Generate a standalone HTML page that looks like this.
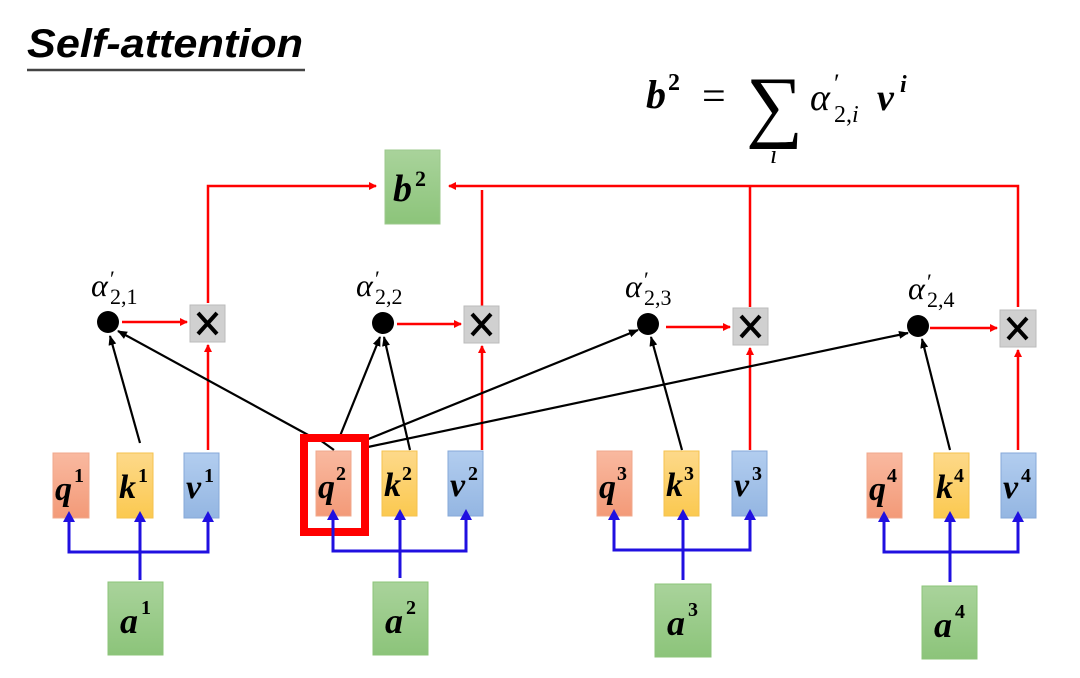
<!DOCTYPE html>
<html><head><meta charset="utf-8"><style>
html,body{margin:0;padding:0;background:#fff;}
svg{display:block;}
text{font-family:"Liberation Serif",serif;}
</style></head><body>
<svg width="1080" height="678" viewBox="0 0 1080 678" xmlns="http://www.w3.org/2000/svg">
<defs>
<marker id="ar" markerWidth="8" markerHeight="8" refX="7" refY="4" orient="auto" markerUnits="userSpaceOnUse"><path d="M0,0 L8,4 L0,8 z" fill="#f00"/></marker>
<marker id="ab" markerWidth="10" markerHeight="10" refX="9" refY="5" orient="auto" markerUnits="userSpaceOnUse"><path d="M0,1 L10,5 L0,9 z" fill="#000"/></marker>
<linearGradient id="gg" x1="0" y1="0" x2="0" y2="1"><stop offset="0" stop-color="#a9d39b"/><stop offset="1" stop-color="#8cc47a"/></linearGradient>
<linearGradient id="go" x1="0" y1="0" x2="0" y2="1"><stop offset="0" stop-color="#f9b9a0"/><stop offset="1" stop-color="#f39a78"/></linearGradient>
<linearGradient id="gy" x1="0" y1="0" x2="0" y2="1"><stop offset="0" stop-color="#fdd98a"/><stop offset="1" stop-color="#fbc950"/></linearGradient>
<linearGradient id="gb" x1="0" y1="0" x2="0" y2="1"><stop offset="0" stop-color="#b2cdef"/><stop offset="1" stop-color="#94b6e2"/></linearGradient>
</defs>

<text x="27" y="57" textLength="276" lengthAdjust="spacingAndGlyphs" style="font-family:'Liberation Sans',sans-serif;font-weight:bold;font-style:italic;font-size:40px">Self-attention</text>
<line x1="27" y1="70" x2="305" y2="70" stroke="#444" stroke-width="2.5"/>

<!-- formula -->
<text x="646" y="108" style="font-weight:bold;font-style:italic;font-size:40px">b</text>
<text x="668" y="90" style="font-weight:bold;font-size:24px">2</text>
<text x="702" y="110" style="font-size:42px">=</text>
<text x="746" y="132" style="font-size:80px">∑</text>
<text x="770" y="163" style="font-style:italic;font-size:26px">i</text>
<text x="810" y="110" style="font-style:italic;font-size:38px">α</text>
<text x="834" y="92" style="font-size:26px">′</text>
<text x="834" y="122" style="font-size:24px">2,<tspan style="font-style:italic">i</tspan></text>
<text x="877" y="110" style="font-weight:bold;font-style:italic;font-size:38px">v</text>
<text x="900" y="92" style="font-weight:bold;font-style:italic;font-size:24px">i</text>

<!-- b2 box -->
<rect x="385" y="150" width="55" height="74" fill="url(#gg)" stroke="#9cc88c"/>
<text x="393" y="201" style="font-weight:bold;font-style:italic;font-size:38px">b</text>
<text x="415" y="186" style="font-weight:bold;font-size:22px">2</text>

<!-- red top lines -->
<g stroke="#f00" stroke-width="2.5" fill="none">
<polyline points="208,303 208,186 376,186" marker-end="url(#ar)"/>
<polyline points="1018,307 1018,186 449,186" marker-end="url(#ar)"/>
<line x1="482" y1="190" x2="482" y2="307"/>
<line x1="750" y1="186" x2="750" y2="307"/>
</g>

<g>
<circle cx="108" cy="322" r="11" fill="#000"/>
<circle cx="383" cy="323" r="11" fill="#000"/>
<circle cx="648" cy="324" r="11" fill="#000"/>
<circle cx="918" cy="326" r="11" fill="#000"/>
</g>
<g fill="#d0d0d0" stroke="#bbb">
<rect x="190" y="305" width="35" height="37"/>
<rect x="464" y="306" width="35" height="37"/>
<rect x="733" y="308" width="35" height="37"/>
<rect x="1000" y="310" width="36" height="37"/>
</g>
<g stroke="#000" stroke-width="4" stroke-linecap="butt">
<path d="M198,313 L217,334 M217,313 L198,334"/>
<path d="M472,314 L491,335 M491,314 L472,335"/>
<path d="M741,316 L760,337 M760,316 L741,337"/>
<path d="M1008,318 L1027,339 M1027,318 L1008,339"/>
</g>
<g stroke="#f00" stroke-width="2.5">
<line x1="122" y1="322" x2="187" y2="322" marker-end="url(#ar)"/>
<line x1="397" y1="324" x2="461" y2="324" marker-end="url(#ar)"/>
<line x1="666" y1="327" x2="730" y2="327" marker-end="url(#ar)"/>
<line x1="930" y1="328" x2="997" y2="328" marker-end="url(#ar)"/>
<line x1="208" y1="450" x2="208" y2="345" marker-end="url(#ar)"/>
<line x1="482" y1="450" x2="482" y2="346" marker-end="url(#ar)"/>
<line x1="750" y1="450" x2="750" y2="348" marker-end="url(#ar)"/>
<line x1="1018" y1="450" x2="1018" y2="350" marker-end="url(#ar)"/>
</g>
<!-- alpha labels -->
<g style="font-size:30px">
<text x="91" y="296" style="font-style:italic;font-size:32px">α</text><text x="110" y="286" style="font-size:22px">′</text><text x="110" y="304" style="font-size:22px">2,1</text>
<text x="356" y="296" style="font-style:italic;font-size:32px">α</text><text x="375" y="286" style="font-size:22px">′</text><text x="375" y="304" style="font-size:22px">2,2</text>
<text x="625" y="297" style="font-style:italic;font-size:32px">α</text><text x="644" y="287" style="font-size:22px">′</text><text x="644" y="305" style="font-size:22px">2,3</text>
<text x="908" y="299" style="font-style:italic;font-size:32px">α</text><text x="927" y="289" style="font-size:22px">′</text><text x="927" y="307" style="font-size:22px">2,4</text>
</g>

<!-- black arrows -->
<g stroke="#000" stroke-width="2.2">
<line x1="140" y1="443" x2="110" y2="336" marker-end="url(#ab)"/>
<line x1="310" y1="436" x2="118" y2="331" marker-end="url(#ab)"/>
<line x1="340" y1="436" x2="380" y2="337" marker-end="url(#ab)"/>
<line x1="410" y1="450" x2="384" y2="337" marker-end="url(#ab)"/>
<line x1="366" y1="440" x2="638" y2="330" marker-end="url(#ab)"/>
<line x1="368" y1="447" x2="908" y2="333" marker-end="url(#ab)"/>
<line x1="682" y1="450" x2="651" y2="337" marker-end="url(#ab)"/>
<line x1="950" y1="450" x2="922" y2="339" marker-end="url(#ab)"/>
<line x1="334" y1="450" x2="320" y2="440"/>
</g>

<!-- q k v boxes -->
<g stroke-width="1">
<rect x="53" y="453" width="36" height="65" fill="url(#go)" stroke="#f0a88c"/>
<rect x="117" y="453" width="36" height="65" fill="url(#gy)" stroke="#f5c24e"/>
<rect x="184" y="453" width="35" height="65" fill="url(#gb)" stroke="#86a8d8"/>
<rect x="316" y="451" width="35" height="65" fill="url(#go)" stroke="#f0a88c"/>
<rect x="382" y="451" width="35" height="65" fill="url(#gy)" stroke="#f5c24e"/>
<rect x="448" y="451" width="35" height="65" fill="url(#gb)" stroke="#86a8d8"/>
<rect x="597" y="451" width="35" height="65" fill="url(#go)" stroke="#f0a88c"/>
<rect x="664" y="451" width="35" height="65" fill="url(#gy)" stroke="#f5c24e"/>
<rect x="732" y="451" width="35" height="65" fill="url(#gb)" stroke="#86a8d8"/>
<rect x="867" y="453" width="35" height="65" fill="url(#go)" stroke="#f0a88c"/>
<rect x="934" y="453" width="35" height="65" fill="url(#gy)" stroke="#f5c24e"/>
<rect x="1001" y="453" width="35" height="65" fill="url(#gb)" stroke="#86a8d8"/>
</g>
<rect x="304" y="438" width="61" height="94" fill="none" stroke="#f00" stroke-width="8"/>
<g style="font-weight:bold;font-style:italic;font-size:34px">
<text x="55" y="500">q</text><text x="119" y="498">k</text><text x="186" y="498">v</text>
<text x="318" y="498">q</text><text x="384" y="496">k</text><text x="450" y="496">v</text>
<text x="599" y="498">q</text><text x="666" y="496">k</text><text x="734" y="496">v</text>
<text x="869" y="500">q</text><text x="936" y="498">k</text><text x="1003" y="498">v</text>
</g>
<g style="font-weight:bold;font-size:20px">
<text x="74" y="482">1</text><text x="138" y="482">1</text><text x="204" y="482">1</text>
<text x="336" y="480">2</text><text x="402" y="480">2</text><text x="468" y="480">2</text>
<text x="617" y="480">3</text><text x="684" y="480">3</text><text x="752" y="480">3</text>
<text x="887" y="482">4</text><text x="954" y="482">4</text><text x="1021" y="482">4</text>
</g>

<!-- blue -->
<g stroke="#2010e0" stroke-width="3" fill="none">
<polyline points="69,520 69,552 208,552 208,520"/>
<line x1="140" y1="580" x2="140" y2="520"/>
<polyline points="333,518 333,551 466,551 466,518"/>
<line x1="400" y1="578" x2="400" y2="518"/>
<polyline points="614,518 614,550 750,550 750,518"/>
<line x1="683" y1="580" x2="683" y2="518"/>
<polyline points="884,520 884,552 1018,552 1018,520"/>
<line x1="950" y1="582" x2="950" y2="520"/>
</g>
<g fill="#2010e0">
<path d="M63,522 L69,511 L75,522z"/><path d="M134,522 L140,511 L146,522z"/><path d="M202,522 L208,511 L214,522z"/>
<path d="M327,520 L333,509 L339,520z"/><path d="M394,520 L400,509 L406,520z"/><path d="M460,520 L466,509 L472,520z"/>
<path d="M608,520 L614,509 L620,520z"/><path d="M677,520 L683,509 L689,520z"/><path d="M744,520 L750,509 L756,520z"/>
<path d="M878,522 L884,511 L890,522z"/><path d="M944,522 L950,511 L956,522z"/><path d="M1012,522 L1018,511 L1024,522z"/>
</g>

<!-- a boxes -->
<g stroke="#8cc47a">
<rect x="108" y="582" width="55" height="73" fill="url(#gg)"/>
<rect x="373" y="582" width="55" height="73" fill="url(#gg)"/>
<rect x="655" y="584" width="56" height="73" fill="url(#gg)"/>
<rect x="922" y="586" width="55" height="73" fill="url(#gg)"/>
</g>
<g style="font-weight:bold;font-style:italic;font-size:36px">
<text x="120" y="633">a</text><text x="385" y="633">a</text><text x="667" y="635">a</text><text x="934" y="637">a</text>
</g>
<g style="font-weight:bold;font-size:20px">
<text x="141" y="614">1</text><text x="406" y="614">2</text><text x="688" y="616">3</text><text x="955" y="618">4</text>
</g>
</svg>
</body></html>
